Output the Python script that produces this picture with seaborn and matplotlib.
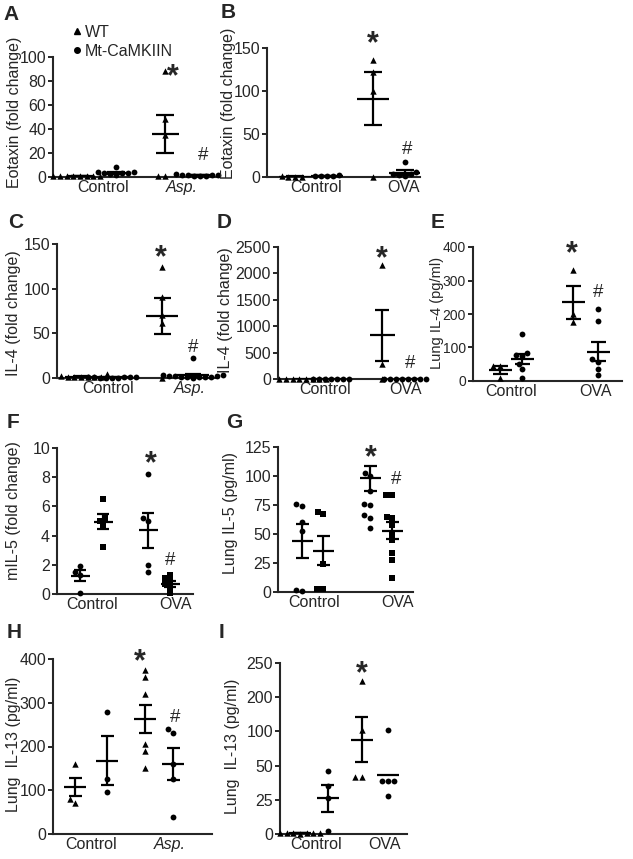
"""Panel de citocinas (A-I): WT vs Mt-CaMKIIN, control vs alérgeno."""

import matplotlib
matplotlib.use("Agg")
import matplotlib.pyplot as plt
from matplotlib.lines import Line2D
from matplotlib.transforms import offset_copy
import pandas as pd
import seaborn as sns

W, H = 633, 859

# grupos en cada panel: Control WT, Control Mt, Tratado WT, Tratado Mt
a_pts = [[0.5, 0.8, 1.0, 0.6, 1.2, 0.7, 0.9, 1.1],
         [8.0, 4.0, 3.0, 2.5, 3.5, 2.0, 4.5, 3.0],
         [88, 48, 35, 1, 1],
         [1.5, 1.0, 2.0, 1.2, 2.5, 1.8, 1.0, 1.5]]
a_mean = [0.8, 3.5, 36, 1.6]
a_sem = [0.1, 0.6, 16, 0.2]
a_yticks = [0, 20, 40, 60, 80, 100]

b_pts = [[0.3, 0.5, 0.4, 0.6],
         [1.0, 1.5, 2.0, 1.2, 0.8],
         [136, 122, 100, 0.5],
         [17, 3, 2, 1, 4, 6]]
b_mean = [0.5, 1.3, 91, 5]
b_sem = [0.1, 0.2, 31, 3]
b_yticks = [0, 50, 100, 150]

c_pts = [[4, 2, 1.5, 1, 1.2, 0.8, 1.5, 1],
         [0.5, 0.6, 0.4, 0.8, 0.5, 0.7, 0.6, 0.5, 0.9],
         [124, 91, 71, 62, 0],
         [22, 3, 2, 1, 2.5, 1.5, 0.5, 1, 2, 3, 1.2, 0.8]]
c_mean = [1.6, 0.6, 69, 3.2]
c_sem = [0.3, 0.05, 20, 1.8]
c_yticks = [0, 50, 100, 150]

d_pts = [[0, 0, 0, 0, 0, 0, 0, 0],
         [0, 0, 0, 0, 0, 0, 0],
         [2150, 280, 0],
         [0, 0, 0, 0, 0, 0, 0, 0]]
d_mean = [0, 0, 830, 5]
d_sem = [0, 0, 480, 0]
d_yticks = [0, 500, 1000, 1500, 2000, 2500]

e_pts = [[45, 44, 9],
         [140, 85, 78, 75, 52, 37, 10],
         [330, 200, 175],
         [214, 178, 65, 58, 37, 17]]
e_mean = [33, 65, 235, 88]
e_sem = [11, 15, 50, 29]
e_yticks = [0, 100, 200, 300, 400]

f_pts = [[1.9, 1.5, 1.3, 0.1],
         [6.5, 5.2, 5.0, 4.7, 3.2],
         [8.2, 5.2, 5.0, 2.0, 1.5],
         [1.3, 1.1, 0.9, 0.7, 0.5, 0.1]]
f_mean = [1.25, 4.95, 4.35, 0.7]
f_sem = [0.37, 0.5, 1.23, 0.2]
f_yticks = [0, 2, 4, 6, 8, 10]

g_pts = [[76, 74, 60, 53, 2, 1],
         [69, 67, 24, 3, 3],
         [103, 100, 87, 76, 75, 66, 64, 55],
         [84, 84, 65, 64, 58, 50, 45, 34, 28, 12]]
g_mean = [44, 35.5, 98, 53]
g_sem = [14.5, 12.5, 11, 7.5]
g_yticks = [0, 25, 50, 75, 100, 125]

h_pts = [[160, 80, 70],
         [280, 125, 95],
         [375, 360, 320, 205, 190, 150],
         [240, 232, 160, 125, 40]]
h_mean = [108, 168, 263, 160]
h_sem = [20, 56, 33, 37]
h_yticks = [0, 100, 200, 300, 400]

i_pts = [[1, 2, 0.5, 1.5, 1, 0.8, 2],
         [92, 70, 53, 4],
         [223, 152, 84, 84],
         [152, 77, 77, 77, 55]]
i_mean = [1.2, 52, 138, 86]
i_sem = [0.3, 19.5, 33, 0]
i_yticks = [0, 50, 100, 150, 200, 250]
i_yticklabels = ["0", "25", "50", "100", "200", "250"]

TRI_CIRC = ["^", "o", "^", "o"]
CIRC_SQ = ["o", "s", "o", "s"]
MSIZE = {"^": 4.6, "o": 4.2, "s": 3.8}

# layout en píxeles: caja (x0, x1, ytop, ybot), centros de grupo, etiquetas x, ylabel, anotaciones
panels = [
    dict(tag="A", tag_xy=(3, 5), pts=a_pts, mean=a_mean, sem=a_sem, yticks=a_yticks,
         ylabel="Eotaxin (fold change)", xlabels=["Control", "Asp."], italic=True, markers=TRI_CIRC,
         box=(53, 218, 57, 177), cx=[80, 116, 165, 200], lx=[103, 182], lab=(14, 112),
         bar=(13.5, 9), star=(173, 88), hash=(203, 20)),
    dict(tag="B", tag_xy=(221, 3), pts=b_pts, mean=b_mean, sem=b_sem, yticks=b_yticks,
         ylabel="Eotaxin (fold change)", xlabels=["Control", "OVA"], italic=False, markers=TRI_CIRC,
         box=(267, 420, 48, 177), cx=[295, 327, 373, 405], lx=[316, 403], lab=(228, 103),
         bar=(16, 9), star=(373, 161), hash=(407, 35)),
    dict(tag="C", tag_xy=(8, 213), pts=c_pts, mean=c_mean, sem=c_sem, yticks=c_yticks,
         ylabel="IL-4 (fold change)", xlabels=["Control", "Asp."], italic=True, markers=TRI_CIRC,
         box=(57, 215, 244, 378), cx=[81, 112, 162, 193], lx=[108, 190], lab=(13, 313),
         bar=(16, 8.5), star=(161, 140), hash=(193, 37)),
    dict(tag="D", tag_xy=(217, 213), pts=d_pts, mean=d_mean, sem=d_sem, yticks=d_yticks,
         ylabel="IL-4 (fold change)", xlabels=["Control", "OVA"], italic=False, markers=TRI_CIRC,
         box=(278, 420, 247, 379), cx=[306, 331, 382, 408], lx=[325, 405], lab=(225, 310),
         bar=(12.5, 7), star=(382, 2375), hash=(410, 333)),
    dict(tag="E", tag_xy=(431, 213), pts=e_pts, mean=e_mean, sem=e_sem, yticks=e_yticks,
         ylabel="Lung IL-4 (pg/ml)", xlabels=["Control", "OVA"], italic=False, markers=TRI_CIRC,
         box=(473, 622, 247, 381), cx=[500, 522, 573, 598], lx=[511, 595], lab=(436, 313),
         bar=(11.5, 7.5), star=(572, 397), hash=(598, 270), ytick_fs=10, ylabel_fs=10.5),
    dict(tag="F", tag_xy=(7, 413), pts=f_pts, mean=f_mean, sem=f_sem, yticks=f_yticks,
         ylabel="mIL-5 (fold change)", xlabels=["Control", "OVA"], italic=False, markers=CIRC_SQ,
         box=(57, 193, 448, 594), cx=[80, 103, 148, 170], lx=[92, 175], lab=(13, 511),
         bar=(9.5, 6), star=(151, 9.25), hash=(170, 2.48)),
    dict(tag="G", tag_xy=(226, 413), pts=g_pts, mean=g_mean, sem=g_sem, yticks=g_yticks,
         ylabel="Lung IL-5 (pg/ml)", xlabels=["Control", "OVA"], italic=False, markers=CIRC_SQ,
         box=(278, 413, 447, 592), cx=[302, 323, 370, 392], lx=[314, 398], lab=(230, 513),
         bar=(10.5, 6.5), star=(371, 120.5), hash=(396, 99)),
    dict(tag="H", tag_xy=(7, 623), pts=h_pts, mean=h_mean, sem=h_sem, yticks=h_yticks,
         ylabel="Lung  IL-13 (pg/ml)", xlabels=["Control", "Asp."], italic=True, markers=TRI_CIRC,
         box=(53, 212, 659, 834), cx=[75, 107, 145, 173], lx=[91, 170], lab=(13, 744),
         bar=(11, 6.5), star=(140, 405), hash=(175, 272)),
    dict(tag="I", tag_xy=(219, 623), pts=i_pts, mean=i_mean, sem=i_sem, yticks=i_yticks,
         yticklabels=i_yticklabels,
         ylabel="Lung  IL-13 (pg/ml)", xlabels=["Control", "OVA"], italic=False, markers=TRI_CIRC,
         box=(280, 407, 663, 834), cx=[300, 328, 362, 388], lx=[316, 385], lab=(232, 746),
         bar=(11, 6.5), star=(362, 242), hash=None),
]

sns.set_theme(style="ticks")
plt.rcParams["font.family"] = ["Liberation Sans", "DejaVu Sans"]
plt.rcParams["axes.linewidth"] = 1.5
FS = 11.5
LW = 1.6
STAR_FS = 22
HASH_FS = 13.5

fig = plt.figure(figsize=(W / 100, H / 100), dpi=100)


def draw_panel(p):
    x0, x1, yt, yb = p["box"]
    ax = fig.add_axes([x0 / W, 1 - yb / H, (x1 - x0) / W, (yb - yt) / H])

    rows = []
    for cx, mk, vals in zip(p["cx"], p["markers"], p["pts"]):
        rows += [(cx, v, mk) for v in vals]
    df = pd.DataFrame(rows, columns=["x", "y", "mk"])
    for mk, sub in df.groupby("mk"):
        sns.swarmplot(data=sub, x="x", y="y", native_scale=True, orient="v", ax=ax,
                      marker=mk, color="black", size=MSIZE[mk],
                      linewidth=0, clip_on=False, zorder=3, warn_thresh=1)

    hw, cw = p["bar"]
    for cx, m, s in zip(p["cx"], p["mean"], p["sem"]):
        ax.hlines(m, cx - hw, cx + hw, color="black", lw=LW, zorder=4)
        if s > 0:
            ax.vlines(cx, m - s, m + s, color="black", lw=LW, zorder=4)
            ax.hlines([m - s, m + s], cx - cw, cx + cw, color="black", lw=LW, zorder=4)

    ax.set_xlim(x0, x1)
    ax.set_ylim(0, p["yticks"][-1])
    ax.set_yticks(p["yticks"])
    ax.set_yticklabels(p.get("yticklabels", [str(t) for t in p["yticks"]]))
    ax.set_xticks(p["lx"])
    ax.set_xticklabels(p["xlabels"])
    if p["italic"]:
        ax.get_xticklabels()[1].set_fontstyle("italic")
    ax.tick_params(axis="y", direction="out", length=3.5, width=1.4, pad=1.5,
                   labelsize=p.get("ytick_fs", FS))
    ax.tick_params(axis="x", length=0, pad=2, labelsize=FS)
    ax.set_xlabel("")
    ax.set_ylabel(p["ylabel"], fontsize=p.get("ylabel_fs", FS))
    lx, ly = p["lab"]
    ax.yaxis.set_label_coords((lx + 8 - x0) / (x1 - x0), (yb - ly) / (yb - yt))
    sns.despine(ax=ax)

    sx, sy = p["star"]
    ax.text(sx, sy, "*", fontsize=STAR_FS, fontweight="bold", ha="center", va="baseline",
            transform=offset_copy(ax.transData, fig=fig, y=-0.45 * STAR_FS, units="points"),
            clip_on=False)
    if p["hash"]:
        hx, hy = p["hash"]
        ax.text(hx, hy, "#", fontsize=HASH_FS, ha="center", va="baseline",
                transform=offset_copy(ax.transData, fig=fig, y=-0.36 * HASH_FS, units="points"),
                clip_on=False)

    fig.text(p["tag_xy"][0] / W, 1 - p["tag_xy"][1] / H, p["tag"], fontsize=15,
             fontweight="bold", ha="left", va="top")
    return ax


axes = [draw_panel(p) for p in panels]

handles = [Line2D([], [], marker="^", color="black", linestyle="none", markersize=4),
           Line2D([], [], marker="o", color="black", linestyle="none", markersize=4)]
fig.legend(handles, ["WT", "Mt-CaMKIIN"], loc="upper left", frameon=False,
           bbox_to_anchor=(73 / W, 1 - 25 / H), borderpad=0, borderaxespad=0,
           handlelength=0.5, handletextpad=0.25, labelspacing=0.25, fontsize=FS)

fig.savefig("out.png", dpi=100)
plt.close(fig)
